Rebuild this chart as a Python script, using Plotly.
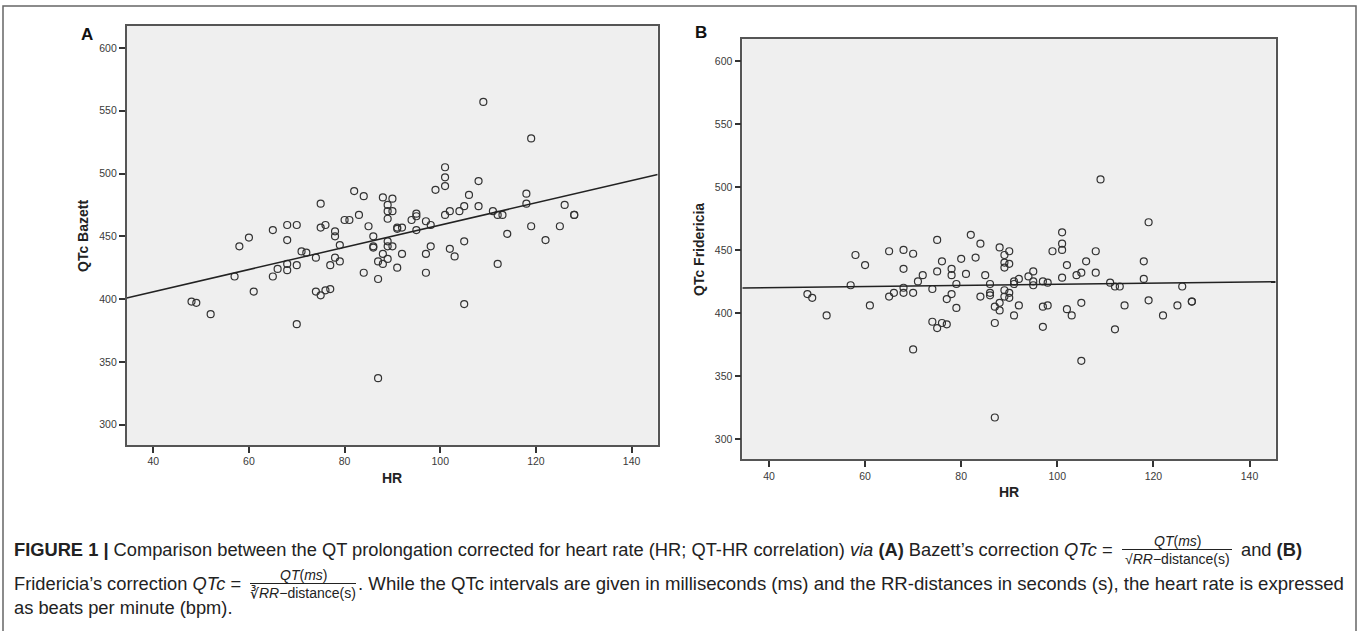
import numpy as np
import plotly.graph_objects as go

W, H = 1360, 631

# ---- data ----
hr_a = [48, 49, 52, 57, 58, 60, 61, 65, 65, 66, 68, 68, 68, 68, 70, 70, 70, 71, 72, 74,
        74, 75, 75, 75, 76, 76, 77, 77, 78, 78, 78, 79, 79, 80, 81, 82, 83, 84, 84, 85,
        86, 86, 86, 87, 87, 87, 88, 88, 88, 89, 89, 89, 89, 89, 89, 90, 90, 90, 91, 91,
        91, 92, 92, 94, 95, 95, 95, 97, 97, 97, 98, 98, 99, 101, 101, 101, 101, 102, 102, 103,
        104, 105, 105, 105, 106, 108, 108, 109, 111, 112, 112, 113, 114, 118, 118, 119, 119, 122, 125, 126,
        128, 128]
qtc_bazett = [398, 397, 388, 418, 442, 449, 406, 455, 418, 424, 459, 447, 428, 423, 459, 427, 380, 438, 437, 433,
              406, 476, 457, 403, 459, 407, 427, 408, 454, 450, 433, 443, 430, 463, 463, 486, 467, 482, 421, 458,
              450, 442, 441, 430, 416, 337, 481, 436, 428, 475, 470, 464, 446, 442, 432, 480, 470, 442, 457, 456,
              425, 457, 436, 463, 468, 466, 455, 462, 436, 421, 459, 442, 487, 505, 497, 490, 467, 470, 440, 434,
              470, 474, 446, 396, 483, 494, 474, 557, 470, 467, 428, 467, 452, 484, 476, 528, 458, 447, 458, 475,
              467, 467]

hr_b = [48, 49, 52, 57, 58, 60, 61, 65, 65, 66, 68, 68, 68, 68, 70, 70, 70, 71, 72, 74,
        74, 75, 75, 75, 76, 76, 77, 77, 78, 78, 78, 79, 79, 80, 81, 82, 83, 84, 84, 85,
        86, 86, 86, 87, 87, 87, 88, 88, 88, 89, 89, 89, 89, 89, 90, 90, 90, 90, 91, 91,
        91, 92, 92, 94, 95, 95, 95, 97, 97, 97, 98, 98, 99, 101, 101, 101, 101, 102, 102, 103,
        104, 105, 105, 105, 106, 108, 108, 109, 111, 112, 112, 113, 114, 118, 118, 119, 119, 122, 125, 126,
        128, 128]
qtc_fridericia = [415, 412, 398, 422, 446, 438, 406, 449, 413, 416, 450, 435, 420, 416, 447, 416, 371, 425, 430, 419,
                  393, 458, 433, 388, 441, 392, 411, 391, 435, 430, 415, 423, 404, 443, 431, 462, 444, 455, 413, 430,
                  423, 416, 414, 405, 392, 317, 452, 408, 402, 446, 440, 436, 418, 413, 449, 439, 416, 412, 425, 423,
                  398, 427, 406, 429, 433, 425, 422, 425, 405, 389, 424, 406, 449, 464, 455, 450, 428, 438, 403, 398,
                  430, 432, 408, 362, 441, 449, 432, 506, 424, 421, 387, 421, 406, 441, 427, 472, 410, 398, 406, 421,
                  409, 409]

x_ticks = [40, 60, 80, 100, 120, 140]
y_ticks = [300, 350, 400, 450, 500, 550, 600]
x_range = [34.45, 145.45]
y_range = [283.8, 617.5]

# ---- helpers: pixel -> paper ----
def px(x):
    return x / W

def py(y):
    return 1 - y / H

fig = go.Figure()

marker = dict(symbol="circle-open", size=7, color="#333333", line=dict(width=1.2, color="#333333"))

for hr, q, xa, ya in [(hr_a, qtc_bazett, "x", "y"), (hr_b, qtc_fridericia, "x2", "y2")]:
    fig.add_trace(go.Scatter(x=hr, y=q, mode="markers", marker=marker, xaxis=xa, yaxis=ya,
                             showlegend=False, hoverinfo="x+y"))
    slope, intercept = np.polyfit(hr, q, 1)
    xs = np.array(x_range)
    fig.add_trace(go.Scatter(x=xs, y=intercept + slope * xs, mode="lines",
                             line=dict(color="#222222", width=1.5), xaxis=xa, yaxis=ya,
                             showlegend=False, hoverinfo="skip"))

axis_common = dict(showgrid=False, zeroline=False, showline=True, mirror=True,
                   linecolor="#555555", linewidth=1.6, ticks="outside", ticklen=6,
                   tickwidth=1.5, tickcolor="#333333",
                   tickfont=dict(family="Liberation Sans", size=10.5, color="#3a3a3a"))

fig.update_layout(
    width=W, height=H,
    margin=dict(l=0, r=0, t=0, b=0),
    paper_bgcolor="white",
    plot_bgcolor="#efefef",
    xaxis=dict(domain=[px(126.7), px(657.7)], range=x_range, tickvals=x_ticks, anchor="y", **axis_common),
    yaxis=dict(domain=[py(445), py(26)], range=y_range, tickvals=y_ticks, anchor="x", **axis_common),
    xaxis2=dict(domain=[px(742.3), px(1275.7)], range=x_range, tickvals=x_ticks, anchor="y2", **axis_common),
    yaxis2=dict(domain=[py(459.3), py(39)], range=y_range, tickvals=y_ticks, anchor="x2", **axis_common),
)

ann = []
def text(x, y, s, size, bold=False, angle=0, anchor="center", color="#222222", family="Liberation Sans"):
    if bold:
        s = "<b>" + s + "</b>"
    ann.append(dict(x=px(x), y=py(y), xref="paper", yref="paper", text=s, showarrow=False,
                    xanchor=anchor, yanchor="middle", textangle=angle, borderpad=0,
                    font=dict(size=size, color=color, family=family)))

text(87, 34, "A", 17, bold=True, color="#111111")
text(701, 33, "B", 17, bold=True, color="#111111")
text(83, 236, "QTc Bazett", 14, bold=True, angle=-90, color="#222222")
text(699, 249, "QTc Fridericia", 14, bold=True, angle=-90, color="#222222")
text(392, 478, "HR", 14, bold=True, color="#222222")
text(1009, 492, "HR", 14, bold=True, color="#222222")

cap = 18.3
# caption line 1
text(13, 549, "<b>FIGURE 1 |</b> Comparison between the QT prolongation corrected for heart rate "
     "(HR; QT-HR correlation) <i>via</i> <b>(A)</b> Bazett’s correction <i>QTc</i> =", cap, anchor="left")
text(1177, 541, "<i>QT</i>(<i>ms</i>)", 14)
text(1177, 559, "√<i>RR</i>−distance(s)", 14)
text(1240, 549, "and <b>(B)</b>", cap, anchor="left")
# caption line 2
text(13, 583, "Fridericia’s correction <i>QTc</i> =", cap, anchor="left")
text(303, 575, "<i>QT</i>(<i>ms</i>)", 14)
text(303, 593, "∛<i>RR</i>−distance(s)", 14)
text(357, 583, ". While the QTc intervals are given in milliseconds (ms) and the RR-distances in seconds (s), "
     "the heart rate is expressed", 18.6, anchor="left")
# caption line 3
text(13, 607, "as beats per minute (bpm).", cap, anchor="left")

fig.update_layout(annotations=ann)

shapes = [
    dict(type="line", xref="paper", yref="paper", x0=px(1122), x1=px(1232), y0=py(549.5), y1=py(549.5),
         line=dict(color="#222222", width=1)),
    dict(type="line", xref="paper", yref="paper", x0=px(250), x1=px(356), y0=py(583.5), y1=py(583.5),
         line=dict(color="#222222", width=1)),
    dict(type="rect", xref="paper", yref="paper", x0=px(3), x1=px(1356), y0=py(660), y1=py(6),
         line=dict(color="#666666", width=1.5), fillcolor="rgba(0,0,0,0)"),
]
fig.update_layout(shapes=shapes)

fig.write_html("out.html", config={"displayModeBar": False},
               post_script="document.body.style.margin='0';document.body.style.overflow='hidden';")
